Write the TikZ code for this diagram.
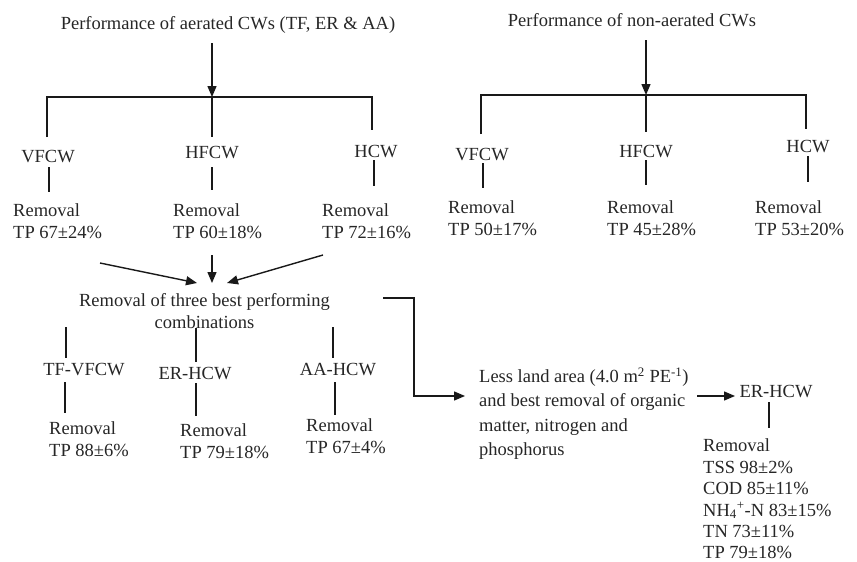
\documentclass[tikz,border=0pt]{standalone}
\usepackage{fontspec}
\setmainfont{Liberation Serif}
\usetikzlibrary{arrows.meta}
\begin{document}
\begin{tikzpicture}[x=1pt,y=-1pt,
  every node/.style={inner sep=0pt, font=\fontsize{18.5}{22}\selectfont, text=black!85},
  blk/.style={anchor=west, align=left},
  cblk/.style={align=center},
  ln/.style={line width=1.4pt, draw=black!90},
  arr/.style={ln, -{Triangle[length=11pt,width=9pt]}}]
\useasboundingbox (0,0) rectangle (857,562);

% ---------- aerated branch ----------
\node (t1) at (228,25) {Performance of aerated CWs (TF, ER \& AA)};
\coordinate (t1s) at (212,43);
\coordinate (b1m) at (212,97);
\coordinate (b1l) at (47,97);
\coordinate (b1r) at (372,97);
\coordinate (b1ld) at (47,137);
\coordinate (b1md) at (212,137);
\coordinate (b1rd) at (372,130);
\draw[arr] (t1s) -- (b1m);
\draw[ln] (b1ld) -- (b1l) -- (b1r) -- (b1rd);
\draw[ln] (b1m) -- (b1md);

\node (a1) at (48,157) {VFCW};
\node (a2) at (212,153) {HFCW};
\node (a3) at (376,152) {HCW};
\coordinate (a1t) at (49,167); \coordinate (a1b) at (49,192);
\coordinate (a2t) at (212,167); \coordinate (a2b) at (212,190);
\coordinate (a3t) at (374,160); \coordinate (a3b) at (374,186);
\draw[ln] (a1t) -- (a1b);
\draw[ln] (a2t) -- (a2b);
\draw[ln] (a3t) -- (a3b);
\node[blk] (ra1) at (13,221) {Removal\\TP 67±24\%};
\node[blk] (ra2) at (173,221) {Removal\\TP 60±18\%};
\node[blk] (ra3) at (322,221) {Removal\\TP 72±16\%};

% ---------- non-aerated branch ----------
\node (t2) at (632,20) {Performance of non-aerated CWs};
\coordinate (t2s) at (646,40);
\coordinate (b2m) at (646,95);
\coordinate (b2l) at (481,95);
\coordinate (b2r) at (806,95);
\coordinate (b2ld) at (481,134);
\coordinate (b2md) at (646,132);
\coordinate (b2rd) at (806,129);
\draw[arr] (t2s) -- (b2m);
\draw[ln] (b2ld) -- (b2l) -- (b2r) -- (b2rd);
\draw[ln] (b2m) -- (b2md);

\node (n1) at (482,155) {VFCW};
\node (n2) at (646,152) {HFCW};
\node (n3) at (808,147) {HCW};
\coordinate (n1t) at (483,163); \coordinate (n1b) at (483,188);
\coordinate (n2t) at (646,160); \coordinate (n2b) at (646,185);
\coordinate (n3t) at (808,156); \coordinate (n3b) at (808,182);
\draw[ln] (n1t) -- (n1b);
\draw[ln] (n2t) -- (n2b);
\draw[ln] (n3t) -- (n3b);
\node[blk] (rn1) at (448,218.5) {Removal\\TP 50±17\%};
\node[blk] (rn2) at (607,218.5) {Removal\\TP 45±28\%};
\node[blk] (rn3) at (755,218.5) {Removal\\TP 53±20\%};

% ---------- best combinations ----------
\node[cblk] (best) at (204.5,311) {Removal of three best performing\\combinations};
\coordinate (c1s) at (100,263); \coordinate (c1e) at (197,283);
\coordinate (c2s) at (212,255); \coordinate (c2e) at (212,283);
\coordinate (c3s) at (323,255); \coordinate (c3e) at (227,283);
\draw[arr] (c1s) -- (c1e);
\draw[arr] (c2s) -- (c2e);
\draw[arr] (c3s) -- (c3e);

\coordinate (v1t) at (66,327); \coordinate (v1b) at (66,358);
\coordinate (v2t) at (196,328); \coordinate (v2b) at (196,362);
\coordinate (v3t) at (333,327); \coordinate (v3b) at (333,358);
\draw[ln] (v1t) -- (v1b);
\draw[ln] (v2t) -- (v2b);
\draw[ln] (v3t) -- (v3b);
\node (k1) at (84,370) {TF-VFCW};
\node (k2) at (195,374) {ER-HCW};
\node (k3) at (338,370) {AA-HCW};
\coordinate (w1t) at (65,382); \coordinate (w1b) at (65,413);
\coordinate (w2t) at (196,383); \coordinate (w2b) at (196,416);
\coordinate (w3t) at (335,382); \coordinate (w3b) at (335,415);
\draw[ln] (w1t) -- (w1b);
\draw[ln] (w2t) -- (w2b);
\draw[ln] (w3t) -- (w3b);
\node[blk] (rk1) at (49,439) {Removal\\TP 88±6\%};
\node[blk] (rk2) at (180,441.5) {Removal\\TP 79±18\%};
\node[blk] (rk3) at (306,436) {Removal\\TP 67±4\%};

% ---------- land area / ER-HCW ----------
\node[blk, font=\fontsize{18.5}{24.4}\selectfont] (land) at (479,413.5)
  {Less land area (4.0 m\textsuperscript{2} PE\textsuperscript{-1})\\and best removal of organic\\matter, nitrogen and\\phosphorus};
\coordinate (p1) at (383,298);
\coordinate (p2) at (414,298);
\coordinate (p3) at (414,396);
\coordinate (p4) at (465,396);
\draw[arr] (p1) -- (p2) -- (p3) -- (p4);

\node (er) at (776,392) {ER-HCW};
\coordinate (q1) at (697,396); \coordinate (q2) at (735,396);
\draw[arr] (q1) -- (q2);
\coordinate (e1) at (769,402); \coordinate (e2) at (769,428);
\draw[ln] (e1) -- (e2);
\node[blk, font=\fontsize{18.5}{21.4}\selectfont] (rer) at (703,499)
  {Removal\\TSS 98±2\%\\COD 85±11\%\\NH\textsubscript{4}\textsuperscript{+}-N 83±15\%\\TN 73±11\%\\TP 79±18\%};
\end{tikzpicture}
\end{document}
